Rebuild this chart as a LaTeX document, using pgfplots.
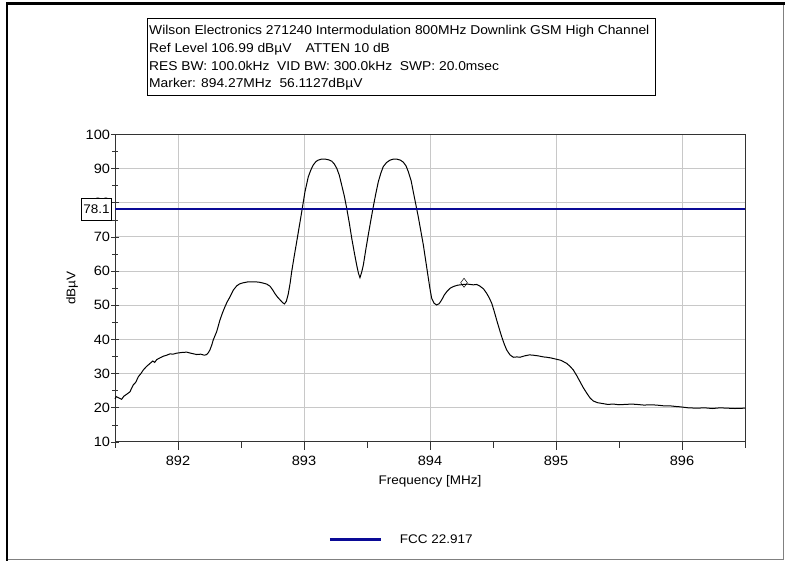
\documentclass[border=0pt]{standalone}
\usepackage{fontspec}
\setmainfont{Liberation Sans}[FakeStretch=1.08]
\usepackage{pgfplots}
\pgfplotsset{compat=1.18}
\definecolor{fccblue}{RGB}{10,10,150}
\definecolor{gridgray}{RGB}{200,200,200}
\newcommand{\lblfont}{\fontsize{12.5}{15}\selectfont}
\newcommand{\tckfont}{\fontsize{13.5}{16}\selectfont}
\newcommand{\hdrfont}{\fontsize{12.8}{15}\selectfont}

\pgfplotstableread{
f       v
891.500 22.6
891.510 23.3
891.530 22.9
891.553 22.5
891.570 23.4
891.590 23.9
891.619 24.7
891.630 25.6
891.645 26.7
891.665 27.5
891.685 29.1
891.705 30.0
891.725 31.1
891.750 32.1
891.778 33.0
891.800 33.7
891.815 33.3
891.831 34.1
891.855 34.6
891.883 35.1
891.910 35.4
891.937 35.8
891.960 35.7
891.990 36.0
892.030 36.2
892.069 36.3
892.100 36.0
892.148 35.6
892.180 35.7
892.210 35.4
892.228 35.6
892.242 36.2
892.254 37.0
892.268 38.4
892.280 39.9
892.307 42.3
892.333 45.7
892.353 47.8
892.373 49.6
892.390 51.0
892.413 52.5
892.440 54.5
892.466 55.7
892.490 56.3
892.518 56.6
892.560 56.9
892.598 56.9
892.640 56.8
892.677 56.5
892.705 56.2
892.730 55.6
892.750 54.6
892.770 53.4
892.790 52.4
892.810 51.6
892.830 50.8
892.845 50.4
892.860 51.2
892.875 53.3
892.890 56.5
892.902 59.8
892.922 64.3
892.942 68.6
892.962 73.0
892.982 77.4
893.008 83.3
893.034 87.6
893.054 89.6
893.074 91.1
893.095 92.1
893.113 92.5
893.140 92.8
893.167 92.8
893.195 92.6
893.220 92.2
893.240 91.4
893.260 90.1
893.280 88.1
893.299 85.2
893.320 82.0
893.339 78.4
893.360 74.0
893.379 69.6
893.400 65.3
893.418 61.8
893.432 59.4
893.444 58.1
893.457 59.6
893.471 61.8
893.490 66.2
893.510 70.6
893.530 74.8
893.550 78.9
893.570 82.7
893.590 86.2
893.610 88.7
893.629 90.6
893.655 91.8
893.683 92.5
893.710 92.8
893.736 92.8
893.765 92.5
893.788 91.9
893.810 90.8
893.828 89.1
893.850 86.5
893.867 83.3
893.887 79.6
893.907 75.9
893.927 71.8
893.947 67.7
893.967 62.8
893.987 57.9
894.000 54.8
894.013 52.1
894.033 50.6
894.053 50.1
894.073 50.5
894.093 51.6
894.113 53.0
894.133 54.0
894.160 55.0
894.185 55.5
894.220 55.9
894.264 56.1
894.300 56.2
894.344 56.0
894.370 56.1
894.397 55.6
894.425 54.8
894.450 53.5
894.470 52.2
894.490 50.6
894.510 48.2
894.529 45.7
894.550 43.1
894.569 40.8
894.590 38.6
894.609 36.9
894.635 35.5
894.661 34.8
894.690 34.9
894.714 34.8
894.750 35.2
894.790 35.5
894.820 35.4
894.860 35.2
894.900 34.9
894.926 34.8
894.960 34.6
895.006 34.2
895.040 33.9
895.085 33.0
895.110 32.2
895.137 31.1
895.165 29.4
895.190 27.7
895.215 26.0
895.244 24.3
895.270 22.9
895.296 22.0
895.330 21.5
895.363 21.3
895.410 21.0
895.455 21.1
895.500 20.9
895.550 21.0
895.600 21.1
895.640 21.0
895.700 20.8
895.750 20.9
895.799 20.8
895.850 20.6
895.900 20.6
895.950 20.4
895.984 20.3
896.050 20.0
896.117 19.9
896.180 20.0
896.240 19.8
896.302 20.0
896.360 19.9
896.420 19.8
896.500 19.9
}\trace

\begin{document}
\begin{tikzpicture}
\path[use as bounding box] (0,0) rectangle (785pt,561pt);

% window frame
\draw[black, line width=2.5pt] (6.8pt,0pt) -- (6.8pt,557.7pt) -- (785pt,557.7pt);
\draw[gray, line width=1pt] (8pt,1.7pt) -- (783.5pt,1.7pt) -- (783.5pt,556pt);

% header box
\draw[black, line width=0.8pt] (147pt,465.5pt) rectangle (655pt,543pt);
\begin{scope}[every node/.style={anchor=base west, inner sep=0pt, font=\hdrfont}]
\node at (149pt,526.5pt) {Wilson Electronics 271240 Intermodulation 800MHz Downlink GSM High Channel};
\node at (149pt,508.4pt) {Ref Level 106.99 dBµV\hspace{1.1em}ATTEN 10 dB};
\node at (149pt,490.6pt) {RES BW: 100.0kHz\hspace{0.6em}VID BW: 300.0kHz\hspace{0.6em}SWP: 20.0msec};
\node at (149pt,473pt) {Marker: 894.27MHz\hspace{0.6em}56.1127dBµV};
\end{scope}

\begin{axis}[
  at={(115pt,119pt)}, anchor=south west,
  scale only axis, width=630pt, height=307.5pt,
  xmin=891.5, xmax=896.5, ymin=10, ymax=100,
  xtick={892,893,894,895,896},
  minor xtick={891.5,892.5,893.5,894.5,895.5,896.5},
  ytick={10,20,...,100},
  minor ytick={15,25,...,95},
  xtick pos=left, ytick pos=left,
  ytick align=center, xtick align=outside,
  major tick length=8pt, minor tick length=6pt,
  tick style={black!80, line width=0.8pt},
  xmajorgrids, ymajorgrids,
  grid style={gridgray, line width=1pt},
  axis line style={black!80, line width=1pt},
  /pgf/number format/assume math mode=true,
  /pgf/number format/1000 sep={},
  ticklabel style={font=\tckfont},
  yticklabel style={xshift=2.5pt},
  xticklabel style={yshift=-3pt},
  xlabel={Frequency [MHz]},
  ylabel={dBµV},
  label style={font=\lblfont},
  xlabel style={at={(axis description cs:0.5,-0.127)}, anchor=center},
  ylabel style={at={(axis description cs:-0.068,0.5)}, anchor=center},
  clip=false,
  legend style={at={(axis description cs:0.339,-0.317)}, anchor=west,
                draw=none, fill=none, inner sep=0pt, font=\lblfont,
                /tikz/every odd column/.append style={column sep=16pt}},
  legend image code/.code={\draw[#1] (0pt,0pt) -- (51pt,0pt);},
]
\addplot[black, line width=1pt, forget plot] table[x=f, y=v] {\trace};
\addplot[fccblue, line width=2.2pt] coordinates {(891.5,78.1) (896.5,78.1)};
\addlegendentry{FCC 22.917}
\addplot[only marks, mark=diamond, mark size=4.5pt, black, fill=white,
         line width=0.5pt, forget plot] coordinates {(894.27,56.6)};
\coordinate (lim) at (axis cs:891.5,78.1);
\end{axis}

\node[draw=black, line width=0.8pt, fill=white, anchor=east, xshift=-3pt,
      minimum height=22pt, inner xsep=2pt, font=\lblfont] at (lim) {78.1};
\end{tikzpicture}
\end{document}
